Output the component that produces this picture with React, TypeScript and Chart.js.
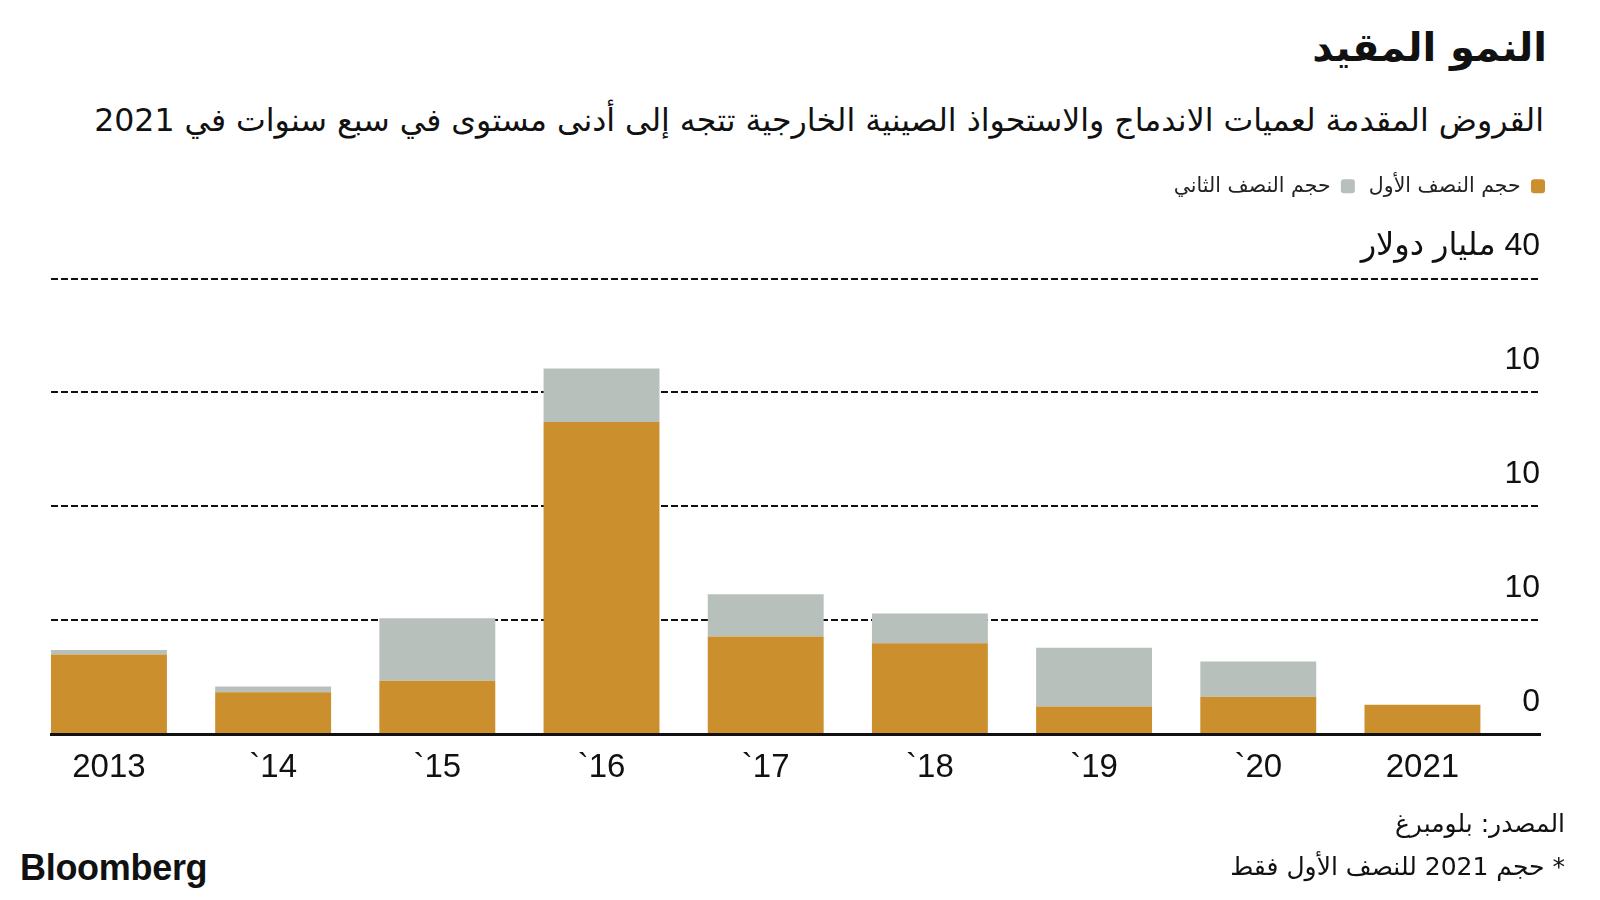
import React, { useEffect, useRef } from "react";
import { Chart, registerables } from "chart.js";

Chart.register(...registerables);

const xLabels = ["2013", "`14", "`15", "`16", "`17", "`18", "`19", "`20", "2021"];
const firstHalf = [7.0, 3.7, 4.7, 27.4, 8.6, 8.0, 2.45, 3.3, 2.6];
const secondHalf = [0.4, 0.5, 5.5, 4.7, 3.7, 2.6, 5.15, 3.1, 0];
const yTickValues = [0, 10, 20, 30, 40];
const yTickLabels = ["0", "10", "10", "10", "\u200F40 مليار دولار"];
const seriesNames = ["حجم النصف الأول", "حجم النصف الثاني"];
const seriesColors = ["#CB8F2E", "#B8C0BC"];

const titleText = "النمو المقيد";
const subtitleText =
  "القروض المقدمة لعميات الاندماج والاستحواذ الصينية الخارجية تتجه إلى أدنى مستوى في سبع سنوات في 2021";
const sourceText = "المصدر: بلومبرغ";
const noteText = "* حجم 2021 للنصف الأول فقط";

const numFont = "'Liberation Sans', 'DejaVu Sans', sans-serif";
const arFont = "'DejaVu Sans', sans-serif";

export default function App() {
  const canvasRef = useRef<HTMLCanvasElement | null>(null);

  useEffect(() => {
    document.body.style.margin = "0";
    document.body.style.background = "#fff";
    const canvas = canvasRef.current;
    if (!canvas) return;

    const legendSpacer = {
      id: "legendSpacer",
      beforeInit(chart: any) {
        const origFit = chart.legend.fit;
        chart.legend.fit = function () {
          origFit.call(this);
          this.height += 72;
        };
      },
    };

    const chart = new Chart(canvas, {
      type: "bar",
      data: {
        datasets: [firstHalf, secondHalf].map((arr, k) => ({
          label: seriesNames[k],
          data: arr.map((v, i) => ({ x: i, y: v })),
          backgroundColor: seriesColors[k],
          borderWidth: 0,
          categoryPercentage: 1,
          barPercentage: 0.706,
        })),
      },
      options: {
        animation: false,
        responsive: false,
        maintainAspectRatio: false,
        layout: { padding: { left: 51, right: 41, top: 12, bottom: 8 } },
        plugins: {
          tooltip: { enabled: false },
          legend: {
            position: "top",
            align: "start",
            rtl: true,
            labels: {
              boxWidth: 14,
              boxHeight: 14,
              padding: 14,
              useBorderRadius: true,
              borderRadius: 3,
              color: "#222",
              font: { family: arFont, size: 20.5 },
            },
          },
        },
        scales: {
          x: {
            type: "linear",
            offset: false,
            stacked: true,
            min: -0.353,
            max: 8.716,
            afterBuildTicks: (scale: any) => {
              scale.ticks = xLabels.map((_, i) => ({ value: i }));
            },
            grid: { display: false, drawTicks: false },
            border: { display: true, color: "#111", width: 3, z: 1 },
            ticks: {
              autoSkip: false,
              maxRotation: 0,
              padding: 14,
              color: "#111",
              font: { family: numFont, size: 33 },
              callback: (v: any) => xLabels[v as number],
            },
          },
          y: {
            position: "right",
            stacked: true,
            min: 0,
            max: 40,
            afterBuildTicks: (scale: any) => {
              scale.ticks = yTickValues.map((v) => ({ value: v }));
            },
            afterFit: (scale: any) => {
              scale.width = 19;
            },
            grid: { color: "#111", lineWidth: 2, drawTicks: false },
            border: { display: false, dash: [7, 3] },
            ticks: {
              mirror: true,
              padding: 0,
              labelOffset: -32,
              color: "#111",
              font: { family: numFont, size: 32 },
              callback: (_v: any, i: number) => yTickLabels[i],
            },
          },
        },
      } as any,
      plugins: [legendSpacer],
    });
    return () => chart.destroy();
  }, []);

  return (
    <div
      style={{
        position: "relative",
        width: 1600,
        height: 900,
        background: "#fff",
        overflow: "hidden",
        color: "#111",
      }}
    >
      <div
        dir="rtl"
        style={{
          position: "absolute",
          right: 53,
          top: 23,
          fontFamily: arFont,
          fontSize: 40,
          fontWeight: 700,
          lineHeight: "48px",
          whiteSpace: "nowrap",
        }}
      >
        {titleText}
      </div>
      <div
        dir="rtl"
        style={{
          position: "absolute",
          right: 56,
          top: 101,
          fontFamily: arFont,
          fontSize: 31.6,
          lineHeight: "38px",
          whiteSpace: "nowrap",
        }}
      >
        {subtitleText}
      </div>
      <canvas
        ref={canvasRef}
        width={1600}
        height={660}
        style={{ position: "absolute", left: 0, top: 150, width: 1600, height: 660 }}
      />
      <div
        dir="rtl"
        style={{
          position: "absolute",
          right: 35,
          top: 809,
          fontFamily: arFont,
          fontSize: 25,
          lineHeight: "30px",
          whiteSpace: "nowrap",
        }}
      >
        {sourceText}
      </div>
      <div
        dir="rtl"
        style={{
          position: "absolute",
          right: 35,
          top: 852,
          fontFamily: arFont,
          fontSize: 25,
          lineHeight: "30px",
          whiteSpace: "nowrap",
        }}
      >
        {noteText}
      </div>
      <div
        style={{
          position: "absolute",
          left: 20,
          top: 847,
          fontFamily: "'Liberation Sans', Arial, sans-serif",
          fontSize: 36,
          fontWeight: 700,
          lineHeight: "42px",
          letterSpacing: -0.3,
          whiteSpace: "nowrap",
        }}
      >
        Bloomberg
      </div>
    </div>
  );
}
